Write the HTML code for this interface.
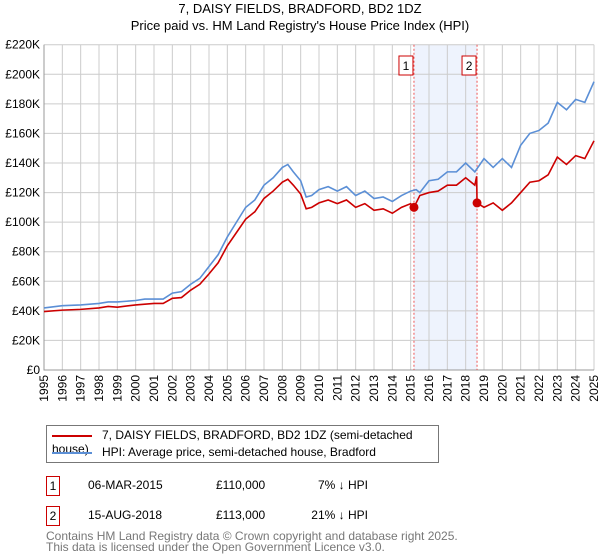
<!DOCTYPE html>
<html><head><meta charset="utf-8"><style>
body{margin:0;background:#fff;font-family:"Liberation Sans","DejaVu Sans",sans-serif;}
#wrap{position:relative;width:600px;height:560px;overflow:hidden;}
.t{position:absolute;font-size:13px;color:#000;white-space:nowrap;}
</style></head><body>
<div id="wrap">
<div class="t" style="left:0;width:600px;text-align:center;top:1px;font-size:13px;">7, DAISY FIELDS, BRADFORD, BD2 1DZ</div>
<div class="t" style="left:0;width:600px;text-align:center;top:18px;font-size:13px;">Price paid vs. HM Land Registry's House Price Index (HPI)</div>
<svg id="chart" width="600" height="415" style="position:absolute;left:0;top:0"></svg>
<div style="position:absolute;left:46px;top:425px;width:391px;height:36px;border:1px solid #777;">
 <div style="position:absolute;left:5px;top:2px;font-size:12px;"><span style="display:inline-block;width:40px;height:2px;background:#cc0000;vertical-align:middle;margin-right:10px"></span>7, DAISY FIELDS, BRADFORD, BD2 1DZ (semi-detached house)</div>
 <div style="position:absolute;left:5px;top:19px;font-size:12px;"><span style="display:inline-block;width:40px;height:2px;background:#5b8fd6;vertical-align:middle;margin-right:10px"></span>HPI: Average price, semi-detached house, Bradford</div>
</div>
<div>
 <div class="t" style="left:46px;top:476px;width:12px;height:18px;border:1px solid #cc0000;text-align:center;font-size:12px;line-height:18px;">1</div>
 <div class="t" style="left:88px;top:478px;font-size:12px;">06-MAR-2015</div>
 <div class="t" style="left:216px;top:478px;font-size:12px;">£110,000</div>
 <div class="t" style="left:300px;width:68px;text-align:right;top:478px;font-size:12px;">7% ↓ HPI</div>
</div>
<div>
 <div class="t" style="left:46px;top:506px;width:12px;height:18px;border:1px solid #cc0000;text-align:center;font-size:12px;line-height:18px;">2</div>
 <div class="t" style="left:88px;top:508px;font-size:12px;">15-AUG-2018</div>
 <div class="t" style="left:216px;top:508px;font-size:12px;">£113,000</div>
 <div class="t" style="left:300px;width:68px;text-align:right;top:508px;font-size:12px;">21% ↓ HPI</div>
</div>
<div class="t" style="left:46px;top:531px;font-size:12px;color:#777;line-height:11px;">Contains HM Land Registry data © Crown copyright and database right 2025.<br>This data is licensed under the Open Government Licence v3.0.</div>
</div>
<script>
const hpiYears=[1995,1996,1997,1998,1998.5,1999,2000,2000.5,2001,2001.5,2002,2002.5,2003,2003.5,2004,2004.5,2005,2005.5,2006,2006.5,2007,2007.5,2008,2008.3,2008.6,2009,2009.3,2009.6,2010,2010.5,2011,2011.5,2012,2012.5,2013,2013.5,2014,2014.5,2015,2015.3,2015.5,2016,2016.5,2017,2017.5,2018,2018.5,2019,2019.5,2020,2020.5,2021,2021.5,2022,2022.5,2023,2023.5,2024,2024.5,2025];
const hpiValues=[42,43.5,44,45,46,46,47,48,48,48,52,53,58,62,70,78,90,100,110,115,125,130,137,139,134,128,117,118,122,124,121,124,118,121,116,117,114,118,121,122,120,128,129,134,134,140,134,143,137,143,137,152,160,162,167,181,176,183,181,195];
const ppYears=[1995,1996,1997,1998,1998.5,1999,2000,2000.5,2001,2001.5,2002,2002.5,2003,2003.5,2004,2004.5,2005,2005.5,2006,2006.5,2007,2007.5,2008,2008.3,2008.6,2009,2009.3,2009.6,2010,2010.5,2011,2011.5,2012,2012.5,2013,2013.5,2014,2014.5,2015,2015.18,2015.5,2016,2016.5,2017,2017.5,2018,2018.5,2018.6,2018.62,2019,2019.5,2020,2020.5,2021,2021.5,2022,2022.5,2023,2023.5,2024,2024.5,2025];
const ppValues=[39.5,40.5,41,42,43,42.5,44,44.5,45,45,48.5,49,54,58,65,72.5,84,93,102,107,116,121,127,129,125,119,109,110,113,115,112.5,115,110,112.5,108,109,106,110,112.5,110,118,120,121,125,125,130,125,131,113,110,113,108,113,120,127,128,132,144,139,145,143,155];
const saleYears=[2015.18,2018.62];
const saleValues=[110,113];
const saleLabels=["1","2"];
const yTicks=[0,20,40,60,80,100,120,140,160,180,200,220];
const xTicks=[1995,1996,1997,1998,1999,2000,2001,2002,2003,2004,2005,2006,2007,2008,2009,2010,2011,2012,2013,2014,2015,2016,2017,2018,2019,2020,2021,2022,2023,2024,2025];

const L=44,R=594,T=44.7,B=370;
const X=y=>L+(y-1995)/30*(R-L);
const Y=v=>B-v/220*(B-T);
const svg=document.getElementById('chart');
const NS='http://www.w3.org/2000/svg';
function mk(tag,attrs){const e=document.createElementNS(NS,tag);for(const k in attrs)e.setAttribute(k,attrs[k]);svg.appendChild(e);return e;}

const shade=mk('rect',{x:X(saleYears[0]),y:T,width:X(saleYears[1])-X(saleYears[0]),height:B-T,fill:'#eef3fd'});



xTicks.forEach(t=>{
 const g=mk('line',{x1:X(t),x2:X(t),y1:T,y2:B,stroke:'#ccc','stroke-width':1});
 
 
 const lb=mk('text',{x:0,y:0,transform:`translate(${X(t)+4},${B+5}) rotate(-90)`,'text-anchor':'end','font-size':12,'font-family':'Liberation Sans, sans-serif'});
 lb.textContent=t;
 
 
});
yTicks.forEach(t=>{
 const g=mk('line',{x1:L,x2:R,y1:Y(t),y2:Y(t),stroke:'#ccc','stroke-width':1});
 
 
 const lb=mk('text',{x:L-4,y:Y(t)+4,'text-anchor':'end','font-size':12,'font-family':'Liberation Sans, sans-serif'});
 lb.textContent=t===0?'£0':'£'+t+'K';
 
 
});
const ax=mk('path',{d:`M${L},${T}V${B}H${R}`,stroke:'#999',fill:'none'});



saleYears.forEach((s,i)=>{
 const v=mk('line',{x1:X(s),x2:X(s),y1:T,y2:B,stroke:'#e55','stroke-width':1,'stroke-dasharray':'2,2'});
 
 
 const b=mk('rect',{x:X(s)-15,y:56,width:14,height:19,fill:'#fff',stroke:'#cc0000'});
 
 
 const tx=mk('text',{x:X(s)-8,y:70,'text-anchor':'middle','font-size':12,'font-family':'Liberation Sans, sans-serif'});
 tx.textContent=saleLabels[i];
 
 
});

const hp=mk('polyline',{points:hpiYears.map((y,i)=>X(y)+','+Y(hpiValues[i])).join(' '),fill:'none',stroke:'#5b8fd6','stroke-width':1.6});


const pp=mk('polyline',{points:ppYears.map((y,i)=>X(y)+','+Y(ppValues[i])).join(' '),fill:'none',stroke:'#cc0000','stroke-width':1.6});


saleYears.forEach((s,i)=>{
 const c=mk('circle',{cx:X(s),cy:Y(saleValues[i]),r:4.5,fill:'#cc0000'});
 
 
});
</script>
</body></html>
